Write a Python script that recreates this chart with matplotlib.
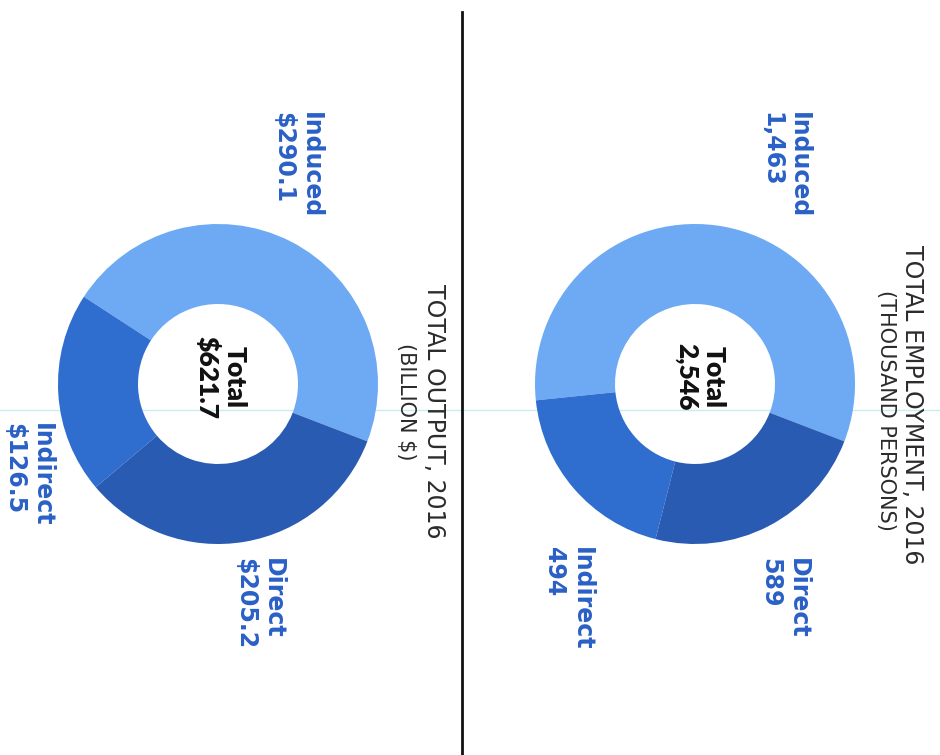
import matplotlib
matplotlib.use("Agg")
import matplotlib.pyplot as plt

# Employment (thousand persons)
emp_labels = ["Induced", "Indirect", "Direct"]
emp_values = [1463, 494, 589]
emp_text = ["1,463", "494", "589"]
emp_total = "2,546"

# Output (billion $)
out_labels = ["Induced", "Indirect", "Direct"]
out_values = [290.1, 126.5, 205.2]
out_text = ["$290.1", "$126.5", "$205.2"]
out_total = "$621.7"

colors = ["#6daaf3", "#2f6ecf", "#2a5bb2"]
label_blue = "#2a60c6"

plt.rcParams["font.family"] = ["DejaVu Sans"]

fig = plt.figure(figsize=(9.4, 7.55), dpi=100)
ax = fig.add_axes([0, 0, 1, 1])

# page coordinates, y runs downward
def donut(cx, cy, values):
    ax.pie(values, center=(cx, cy), radius=160, startangle=21,
           counterclock=False, colors=colors, frame=True,
           wedgeprops=dict(width=80, linewidth=0))

donut(695, 384, emp_values)
donut(218, 384, out_values)

ax.set_xlim(0, 940)
ax.set_ylim(755, 0)
ax.set_aspect("auto")
ax.axis("off")

def side_label(x, y, name, val):
    ax.text(x, y, name + "\n" + val, rotation=-90, rotation_mode="anchor",
            ha="left", va="top", color=label_blue, fontsize=17,
            fontweight="bold", linespacing=1.2)

# employment labels
side_label(811, 112, emp_labels[0], emp_text[0])
side_label(594, 547, emp_labels[1], emp_text[1])
side_label(810, 558, emp_labels[2], emp_text[2])
# output labels
side_label(323, 112, out_labels[0], out_text[0])
side_label(54, 423, out_labels[1], out_text[1])
side_label(285, 558, out_labels[2], out_text[2])

# totals in the holes
for cx, val in [(700, emp_total), (221, out_total)]:
    ax.text(cx, 377, "Total\n" + val, rotation=-90, rotation_mode="anchor",
            ha="center", va="center", multialignment="center",
            fontfamily="Lato", color="#111111", fontsize=19,
            fontweight="heavy", linespacing=1.15)

# titles
ax.text(912, 405, "TOTAL EMPLOYMENT, 2016", rotation=-90, rotation_mode="anchor",
        ha="center", va="center", color="#2b2b2b", fontsize=17)
ax.text(886, 410, "(THOUSAND PERSONS)", rotation=-90, rotation_mode="anchor",
        ha="center", va="center", color="#2b2b2b", fontsize=15)
ax.text(434, 411, "TOTAL OUTPUT, 2016", rotation=-90, rotation_mode="anchor",
        ha="center", va="center", color="#2b2b2b", fontsize=17)
ax.text(406, 402, "(BILLION $)", rotation=-90, rotation_mode="anchor",
        ha="center", va="center", color="#2b2b2b", fontsize=15)

# divider between the two panels
ax.plot([462, 462], [12, 755], color="#111111", linewidth=2)
# faint scan line across the page
ax.plot([0, 940], [410, 410], color="#bfe6ee", linewidth=1, alpha=0.8, zorder=0)

fig.savefig("out.png", dpi=100, facecolor="white")
